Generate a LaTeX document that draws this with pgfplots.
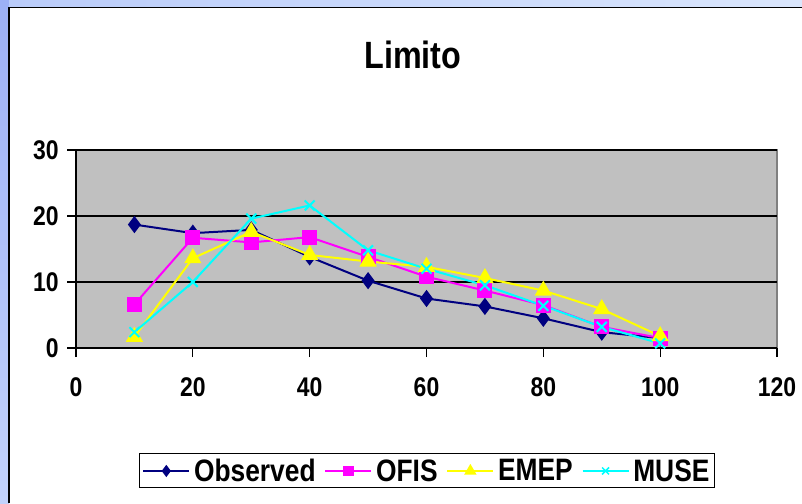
\documentclass[border=0pt]{standalone}
\usepackage{fontspec}
\setmainfont{Liberation Sans}[FakeStretch=0.85]
\usepackage{pgfplots}
\pgfplotsset{compat=1.18}

\definecolor{obsblue}{HTML}{000080}
\definecolor{ofismag}{HTML}{FF00FF}
\definecolor{emepyel}{HTML}{FFFF00}
\definecolor{musecyan}{HTML}{00FFFF}
\definecolor{plotgray}{HTML}{C0C0C0}
\definecolor{framegray}{HTML}{808080}
\definecolor{slideA}{HTML}{9CB0F6}
\definecolor{slideB}{HTML}{C2D2FB}
\definecolor{slideC}{HTML}{BACCFA}
\definecolor{slideD}{HTML}{DAE6FC}

\begin{document}
\begin{tikzpicture}[x=1pt,y=1pt]
\useasboundingbox (0,0) rectangle (802,503);
% slide background strips and the chart frame
\shade[top color=slideA, bottom color=slideB] (0,0) rectangle (9,503);
\shade[left color=slideC, right color=slideD] (9,495) rectangle (802,503);
\draw[black, line width=1.6pt] (9,0) -- (9,495.5) -- (802,495.5);

\node[font=\bfseries\fontsize{38}{38}\selectfont] at (413,448) {Limito};

\begin{axis}[
  at={(76pt,155pt)}, anchor=south west,
  scale only axis, width=701pt, height=198pt,
  xmin=0, xmax=120, ymin=0, ymax=30,
  xtick={0,20,...,120}, ytick={0,10,20,30},
  axis x line*=bottom, axis y line*=left,
  axis line style={black, line width=1.2pt, -},
  axis background/.style={fill=plotgray, draw=framegray, line width=1.6pt},
  ymajorgrids, grid style={black, line width=1.2pt},
  tick align=outside, major tick length=9pt,
  tick style={black, line width=1.2pt},
  /pgf/number format/assume math mode=true,
  ticklabel style={font=\bfseries\fontsize{27}{27}\selectfont},
  xticklabel style={yshift=-16pt},
  yticklabel style={xshift=-4pt},
  clip=false,
  line width=2pt,
  legend columns=4,
  legend style={at={(0.5007,-0.621)}, anchor=center, draw=black, line width=1pt,
    font=\bfseries\fontsize{31}{31}\selectfont, inner xsep=3pt, inner ysep=3pt,
    /tikz/every odd column/.append style={column sep=2pt},
    /tikz/every even column/.append style={column sep=7pt}},
  legend image code/.code={%
    \draw[mark repeat=2, mark phase=2, line width=1.5pt,
          every mark/.append style={scale=0.7}]
      plot coordinates {(0pt,0pt) (23pt,0pt) (46pt,0pt)};},
]
\addplot[obsblue, mark=diamond*, mark size=7pt, mark options={solid}]
  coordinates {(10,18.7) (20,17.4) (30,17.9) (40,13.8) (50,10.2) (60,7.5)
               (70,6.3) (80,4.5) (90,2.4) (100,1.5)};
\addlegendentry{Observed}
\addplot[ofismag, mark=square*, mark size=6.5pt]
  coordinates {(10,6.6) (20,16.7) (30,16.0) (40,16.8) (50,13.8) (60,10.8)
               (70,8.7) (80,6.5) (90,3.2) (100,1.5)};
\addlegendentry{OFIS}
\addplot[emepyel, mark=triangle*, mark size=8pt]
  coordinates {(10,1.7) (20,13.6) (30,17.6) (40,14.1) (50,13.1) (60,12.3)
               (70,10.6) (80,8.7) (90,5.9) (100,1.8)};
\addlegendentry{EMEP}
\addplot[musecyan, mark=x, mark size=7pt]
  coordinates {(10,2.4) (20,10.0) (30,19.6) (40,21.6) (50,14.8) (60,12.0)
               (70,9.5) (80,6.4) (90,3.2) (100,0.7)};
\addlegendentry{MUSE}
\end{axis}
\end{tikzpicture}
\end{document}
